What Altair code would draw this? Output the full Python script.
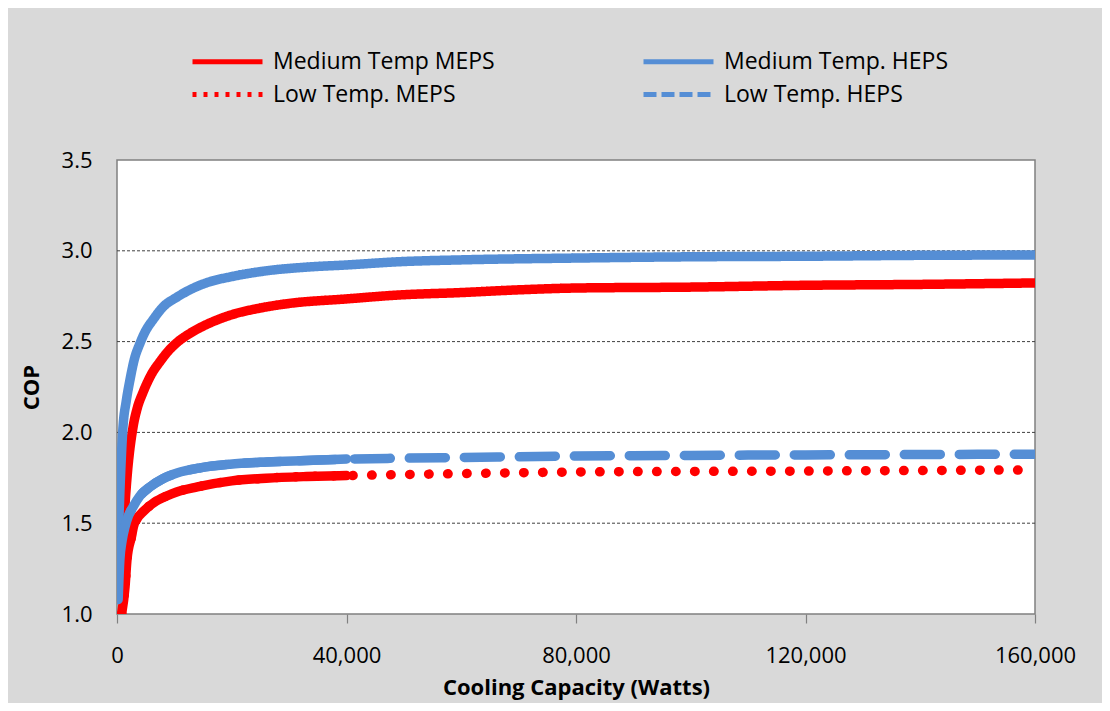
import altair as alt
import pandas as pd

# ---- data ----
series_names = ["Medium Temp MEPS", "Medium Temp. HEPS", "Low Temp. MEPS", "Low Temp. HEPS"]

mt_meps_x = [600, 1100, 1740, 2800, 3500, 4530, 6000, 7500, 9000, 10460, 12700, 15000, 17500,
             20200, 25000, 30000, 40000, 49300, 60000, 70000, 80000, 100000, 120000, 140000, 160000]
mt_meps_y = [1.20, 1.46, 1.75, 2.03, 2.13, 2.22, 2.32, 2.39, 2.45, 2.495, 2.545, 2.585, 2.62,
             2.65, 2.685, 2.71, 2.735, 2.757, 2.77, 2.785, 2.795, 2.80, 2.81, 2.815, 2.823]

mt_heps_x = [200, 600, 1046, 1600, 2266, 3000, 4000, 5000, 6275, 8000, 10460, 13000, 16200,
             19700, 26100, 33000, 40000, 49300, 60000, 80000, 100000, 120000, 140000, 160000]
mt_heps_y = [1.40, 1.75, 2.03, 2.17, 2.29, 2.40, 2.49, 2.56, 2.62, 2.69, 2.745, 2.79, 2.83,
             2.856, 2.89, 2.91, 2.922, 2.94, 2.95, 2.96, 2.967, 2.97, 2.975, 2.977]

lt_meps_x = [800, 1400, 1740, 2550, 2850, 3500, 4600, 6500, 8660, 10400, 14000, 20000, 26000,
             33000, 40000, 50000, 60000, 70000, 80000, 90000, 100000, 110000, 120000, 130000,
             140000, 150000, 160000]
lt_meps_y = [1.00, 1.15, 1.30, 1.43, 1.48, 1.525, 1.565, 1.615, 1.65, 1.672, 1.70, 1.733, 1.748,
             1.757, 1.762, 1.768, 1.773, 1.778, 1.782, 1.784, 1.785, 1.786, 1.787, 1.789,
             1.79, 1.792, 1.793]

lt_heps_x = [200, 500, 870, 1400, 2000, 2800, 4000, 5750, 8000, 10460, 14500, 19700, 26100,
             33000, 40000, 50000, 60000, 70000, 80000, 90000, 100000, 110000, 120000, 130000,
             140000, 150000, 160000]
lt_heps_y = [1.08, 1.30, 1.40, 1.48, 1.54, 1.59, 1.65, 1.70, 1.745, 1.776, 1.805, 1.825, 1.837,
             1.845, 1.853, 1.858, 1.862, 1.866, 1.87, 1.872, 1.873, 1.875, 1.876, 1.877,
             1.878, 1.879, 1.88]

x_ticks = [0, 40000, 80000, 120000, 160000]
y_ticks = [1.0, 1.5, 2.0, 2.5, 3.0, 3.5]
grid_values = [1.5, 2.0, 2.5, 3.0]
dense_limit = 40000

series_colors = ["#FF0000", "#558ED5", "#FF0000", "#558ED5"]
line_dashes = [[1, 0], [1, 0], [0.5, 18.5], [36, 19]]
legend_dashes = [[1, 0], [1, 0], [4, 7], [13, 5]]

rows = []
for name, xs, ys in zip(series_names,
                        [mt_meps_x, mt_heps_x, lt_meps_x, lt_heps_x],
                        [mt_meps_y, mt_heps_y, lt_meps_y, lt_heps_y]):
    for xv, yv in zip(xs, ys):
        rows.append({"series": name, "watts": xv, "cop": yv})
df = pd.DataFrame(rows)
grid_df = pd.DataFrame({"cop": grid_values})

FONT = "Open Sans"

x_axis = alt.Axis(values=x_ticks, format=",d", title="Cooling Capacity (Watts)", grid=False,
                  domain=False, ticks=True, tickSize=9, tickColor="#808080", tickWidth=1.2,
                  labelFont=FONT, labelFontSize=22, labelColor="black", labelPadding=22,
                  labelFlush=False, titleFont=FONT, titleFontSize=22, titleFontWeight="bold",
                  titleColor="black", titlePadding=11)
y_axis = alt.Axis(values=y_ticks, format=".1f", title="COP", grid=False, domain=False,
                  ticks=False, labelFont=FONT, labelFontSize=22, labelColor="black",
                  labelPadding=25, titleFont=FONT, titleFontSize=22, titleFontWeight="bold",
                  titleColor="black", titlePadding=18)

x_scale = alt.Scale(domain=[0, 160000], nice=False)
y_scale = alt.Scale(domain=[1.0, 3.5], nice=False)
color_scale = alt.Scale(domain=series_names, range=series_colors)
line_dash_scale = alt.Scale(domain=series_names, range=line_dashes)
legend_dash_scale = alt.Scale(domain=series_names, range=legend_dashes)

legend = alt.Legend(
    title=None, orient="none", direction="horizontal", legendX=73, legendY=-110, columns=2,
    columnPadding=146, rowPadding=9, symbolType="stroke", symbolSize=4900, symbolStrokeWidth=5,
    clipHeight=23, labelFont=FONT, labelFontSize=23, labelColor="black", labelOffset=8,
    padding=0, labelLimit=400,
)

enc_x = alt.X("watts:Q", scale=x_scale, axis=x_axis)
enc_y = alt.Y("cop:Q", scale=y_scale, axis=y_axis)

grid = alt.Chart(grid_df).mark_rule(strokeDash=[3, 2], color="#404040", strokeWidth=1).encode(
    y=enc_y
)

lines = alt.Chart(df).mark_line(strokeWidth=9.5, strokeCap="round", clip=True,
                                interpolate="monotone").encode(
    x=enc_x, y=enc_y,
    color=alt.Color("series:N", scale=color_scale, legend=None, sort=series_names),
    strokeDash=alt.StrokeDash("series:N", scale=line_dash_scale, legend=None, sort=series_names),
)

dense = alt.Chart(df).transform_filter(
    (alt.datum.watts <= dense_limit) & (alt.expr.indexof(alt.datum.series, "Low") == 0)
).mark_line(strokeWidth=9.5, strokeCap="round", clip=True, interpolate="monotone").encode(
    x=enc_x, y=enc_y,
    color=alt.Color("series:N", scale=color_scale, legend=None, sort=series_names),
)

legend_layer = alt.Chart(df).transform_filter("false").mark_line(strokeWidth=5).encode(
    x=enc_x, y=enc_y,
    color=alt.Color("series:N", scale=color_scale, legend=legend, sort=series_names),
    strokeDash=alt.StrokeDash("series:N", scale=legend_dash_scale, legend=legend,
                              sort=series_names),
)

chart = alt.layer(grid, lines, dense, legend_layer).resolve_scale(
    color="independent", strokeDash="independent"
).properties(
    width=918, height=454,
    padding={"left": 109, "top": 152, "right": 67, "bottom": 89},
    autosize=alt.AutoSizeParams(type="none"),
    background="#D9D9D9",
).configure_view(fill="white", stroke="#808080", strokeWidth=1.5)

chart.save("out.html", embed_options={"renderer": "svg", "actions": False})
